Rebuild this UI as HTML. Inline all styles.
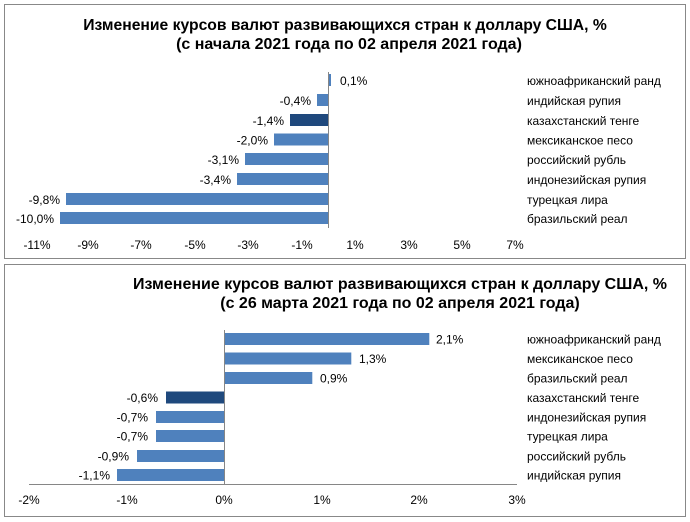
<!DOCTYPE html>
<html><head><meta charset="utf-8"><style>
body{margin:0;background:#fff;}
svg{display:block;font-family:"Liberation Sans",Arial,sans-serif;}
</style></head><body>
<svg width="690" height="522" xmlns="http://www.w3.org/2000/svg">
<rect x="4.5" y="4.5" width="681" height="254" fill="#fff" stroke="#888" stroke-width="1"/>
<rect x="4.5" y="264.5" width="681" height="252" fill="#fff" stroke="#888" stroke-width="1"/>
<g font-weight="bold" font-size="16" text-anchor="middle" fill="#000">
<text x="345" y="30" font-size="15.7">Изменение курсов валют развивающихся стран к доллару США, %</text>
<text x="349" y="49">(с начала 2021 года по 02 апреля 2021 года)</text>
<text x="400" y="289">Изменение курсов валют развивающихся стран к доллару США, %</text>
<text x="400" y="308">(с 26 марта 2021 года по 02 апреля 2021 года)</text>
</g>
<g fill="#4f81bd">
<rect x="328" y="74" width="3" height="12"/>
<rect x="317" y="94" width="11" height="12"/>
<rect x="290" y="114" width="38" height="12" fill="#1f497d"/>
<rect x="274" y="133.5" width="54" height="12"/>
<rect x="245" y="153" width="83" height="12"/>
<rect x="237" y="173" width="91" height="12"/>
<rect x="66" y="193" width="262" height="12"/>
<rect x="60" y="212" width="268" height="12"/>
</g>
<line x1="328.5" y1="72" x2="328.5" y2="228" stroke="#868686"/>
<g font-size="12" fill="#000">
<text x="340" y="85">0,1%</text>
<g text-anchor="end">
<text x="311" y="105">-0,4%</text>
<text x="284" y="125">-1,4%</text>
<text x="268" y="144.5">-2,0%</text>
<text x="239" y="164">-3,1%</text>
<text x="231" y="184">-3,4%</text>
<text x="60" y="204">-9,8%</text>
<text x="54" y="223">-10,0%</text>
</g>
<g text-anchor="middle">
<text x="37" y="249">-11%</text><text x="88" y="249">-9%</text><text x="141" y="249">-7%</text>
<text x="195" y="249">-5%</text><text x="248" y="249">-3%</text><text x="302" y="249">-1%</text>
<text x="355" y="249">1%</text><text x="409" y="249">3%</text><text x="462" y="249">5%</text><text x="515" y="249">7%</text>
</g>
<text x="527" y="85">южноафриканский ранд</text>
<text x="527" y="105">индийская рупия</text>
<text x="527" y="125">казахстанский тенге</text>
<text x="527" y="144.5">мексиканское песо</text>
<text x="527" y="164">российский рубль</text>
<text x="527" y="184">индонезийская рупия</text>
<text x="527" y="204">турецкая лира</text>
<text x="527" y="223">бразильский реал</text>
</g>
<g fill="#4f81bd">
<rect x="224.3" y="333" width="205" height="12"/>
<rect x="224.3" y="352.5" width="127" height="12"/>
<rect x="224.3" y="372" width="88" height="12"/>
<rect x="166" y="391.5" width="58.3" height="12" fill="#1f497d"/>
<rect x="156" y="411" width="68.3" height="12"/>
<rect x="156" y="430" width="68.3" height="12"/>
<rect x="137" y="450" width="87.3" height="12"/>
<rect x="117" y="469" width="107.3" height="12"/>
</g>
<line x1="224.5" y1="330" x2="224.5" y2="484" stroke="#868686"/>
<line x1="29" y1="484.5" x2="517" y2="484.5" stroke="#868686"/>
<g font-size="12" fill="#000">
<text x="436" y="343.5">2,1%</text>
<text x="359" y="363">1,3%</text>
<text x="320" y="382.5">0,9%</text>
<g text-anchor="end">
<text x="158" y="402">-0,6%</text>
<text x="148" y="421.5">-0,7%</text>
<text x="148" y="440.5">-0,7%</text>
<text x="129" y="460.5">-0,9%</text>
<text x="110" y="479.5">-1,1%</text>
</g>
<g text-anchor="middle">
<text x="29" y="504">-2%</text><text x="127" y="504">-1%</text><text x="224" y="504">0%</text>
<text x="322" y="504">1%</text><text x="419" y="504">2%</text><text x="517" y="504">3%</text>
</g>
<text x="527" y="343.5">южноафриканский ранд</text>
<text x="527" y="363">мексиканское песо</text>
<text x="527" y="382.5">бразильский реал</text>
<text x="527" y="402">казахстанский тенге</text>
<text x="527" y="421.5">индонезийская рупия</text>
<text x="527" y="440.5">турецкая лира</text>
<text x="527" y="460.5">российский рубль</text>
<text x="527" y="479.5">индийская рупия</text>
</g>
</svg>
</body></html>
